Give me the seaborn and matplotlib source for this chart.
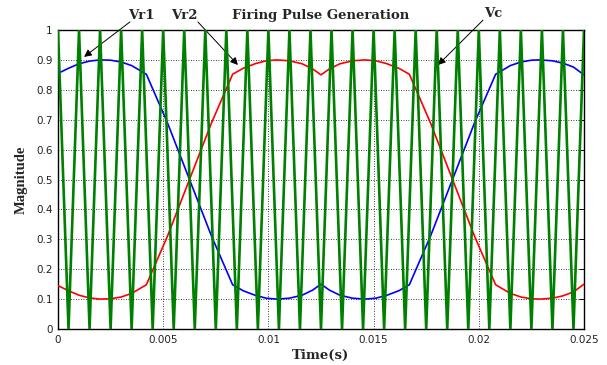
import matplotlib
matplotlib.use("Agg")
import matplotlib.pyplot as plt
import seaborn as sns
import pandas as pd

# ---- data ----
vr1_time = [0.0, 0.0005, 0.001, 0.0015, 0.002, 0.0025, 0.003, 0.0035, 0.0042,
            0.0052, 0.00625, 0.0073, 0.0083,
            0.0088, 0.0094, 0.0099, 0.0104, 0.0110, 0.0116, 0.0121, 0.0125,
            0.0129, 0.0134, 0.0140, 0.0146, 0.0151, 0.0156, 0.0162, 0.0167,
            0.0177, 0.01875, 0.0198, 0.0208,
            0.0215, 0.0220, 0.0225, 0.0229, 0.0235, 0.0240, 0.0245, 0.0250]
vr1_value = [0.855, 0.872, 0.887, 0.896, 0.900, 0.899, 0.893, 0.881, 0.852,
             0.690, 0.500, 0.310, 0.148,
             0.128, 0.112, 0.103, 0.100, 0.103, 0.113, 0.130, 0.150,
             0.130, 0.113, 0.103, 0.100, 0.103, 0.112, 0.128, 0.148,
             0.310, 0.500, 0.690, 0.852,
             0.881, 0.893, 0.899, 0.900, 0.897, 0.889, 0.876, 0.850]
vr2_time = vr1_time
vr2_value = [0.145, 0.128, 0.113, 0.104, 0.100, 0.101, 0.107, 0.119, 0.148,
             0.310, 0.500, 0.690, 0.852,
             0.872, 0.888, 0.897, 0.900, 0.897, 0.887, 0.870, 0.850,
             0.870, 0.887, 0.897, 0.900, 0.897, 0.888, 0.872, 0.852,
             0.690, 0.500, 0.310, 0.148,
             0.119, 0.107, 0.101, 0.100, 0.103, 0.111, 0.124, 0.150]
vc_time = [0.0, 0.0005, 0.001, 0.0015, 0.002, 0.0025, 0.003, 0.0035, 0.004, 0.0045,
           0.005, 0.0055, 0.006, 0.0065, 0.007, 0.0075, 0.008, 0.0085, 0.009, 0.0095,
           0.010, 0.0105, 0.011, 0.0115, 0.012, 0.0125, 0.013, 0.0135, 0.014, 0.0145,
           0.015, 0.0155, 0.016, 0.0165, 0.017, 0.0175, 0.018, 0.0185, 0.019, 0.0195,
           0.020, 0.0205, 0.021, 0.0215, 0.022, 0.0225, 0.023, 0.0235, 0.024, 0.0245,
           0.025]
vc_value = [1, 0, 1, 0, 1, 0, 1, 0, 1, 0,
            1, 0, 1, 0, 1, 0, 1, 0, 1, 0,
            1, 0, 1, 0, 1, 0, 1, 0, 1, 0,
            1, 0, 1, 0, 1, 0, 1, 0, 1, 0,
            1, 0, 1, 0, 1, 0, 1, 0, 1, 0,
            1]
x_ticks = [0, 0.005, 0.01, 0.015, 0.02, 0.025]
x_tick_labels = ["0", "0.005", "0.01", "0.015", "0.02", "0.025"]
y_ticks = [0, 0.1, 0.2, 0.3, 0.4, 0.5, 0.6, 0.7, 0.8, 0.9, 1]
y_tick_labels = ["0", "0.1", "0.2", "0.3", "0.4", "0.5", "0.6", "0.7", "0.8", "0.9", "1"]
title_text = "Firing Pulse Generation"
x_label = "Time(s)"
y_label = "Magnitude"
labels = ["Vr1", "Vr2", "Vc"]

sns.set_style("white")
plt.rcParams["font.family"] = ["DejaVu Sans"]

fig = plt.figure(figsize=(6.07, 3.65), dpi=100)
ax = fig.add_axes([58 / 607, 36 / 365, 526 / 607, 299 / 365])

df1 = pd.DataFrame({"t": vr1_time, "v": vr1_value})
df2 = pd.DataFrame({"t": vr2_time, "v": vr2_value})
df3 = pd.DataFrame({"t": vc_time, "v": vc_value})
sns.lineplot(data=df1, x="t", y="v", ax=ax, color="#0000ff", lw=1.2, sort=False, zorder=3)
sns.lineplot(data=df2, x="t", y="v", ax=ax, color="#ff0000", lw=1.2, sort=False, zorder=3)
sns.lineplot(data=df3, x="t", y="v", ax=ax, color="#008000", lw=1.9, sort=False, zorder=4)

ax.set_xlim(0, 0.025)
ax.set_ylim(0, 1)
ax.set_xticks(x_ticks)
ax.set_xticklabels(x_tick_labels)
ax.set_yticks(y_ticks)
ax.set_yticklabels(y_tick_labels)
ax.tick_params(direction="in", length=3.5, width=0.7, top=True, right=True,
               labelsize=7.5, colors="black", pad=4)
for lab in ax.get_xticklabels() + ax.get_yticklabels():
    lab.set_color("#222222")
ax.grid(True, color="black", linestyle=(0, (1, 2)), linewidth=0.6)
for s in ax.spines.values():
    s.set_visible(True)
    s.set_color("black")
    s.set_linewidth(1.0)

serif_bold = dict(family="DejaVu Serif", fontweight="bold", fontsize=9.5)
ax.set_xlabel(x_label, labelpad=3, **serif_bold)
ax.set_ylabel(y_label, labelpad=6, family="Liberation Serif", fontweight="bold", fontsize=10.5)
ax.text(0.5, 1.05, title_text, transform=ax.transAxes, ha="center", va="center", **serif_bold)

ax.text(0.00394, 1.05, labels[0], ha="center", va="center", **serif_bold)
ax.text(0.0060, 1.05, labels[1], ha="center", va="center", **serif_bold)
ax.text(0.0207, 1.055, labels[2], ha="center", va="center", **serif_bold)

arrow = dict(arrowstyle="-|>", color="black", lw=0.7, mutation_scale=11, shrinkA=0, shrinkB=0)
ax.annotate("", xy=(0.00124, 0.91), xytext=(0.00342, 1.027), arrowprops=arrow, annotation_clip=False)
ax.annotate("", xy=(0.00855, 0.883), xytext=(0.00665, 1.027), arrowprops=arrow, annotation_clip=False)
ax.annotate("", xy=(0.01806, 0.883), xytext=(0.0202, 1.033), arrowprops=arrow, annotation_clip=False)

fig.savefig("out.png", dpi=100)
